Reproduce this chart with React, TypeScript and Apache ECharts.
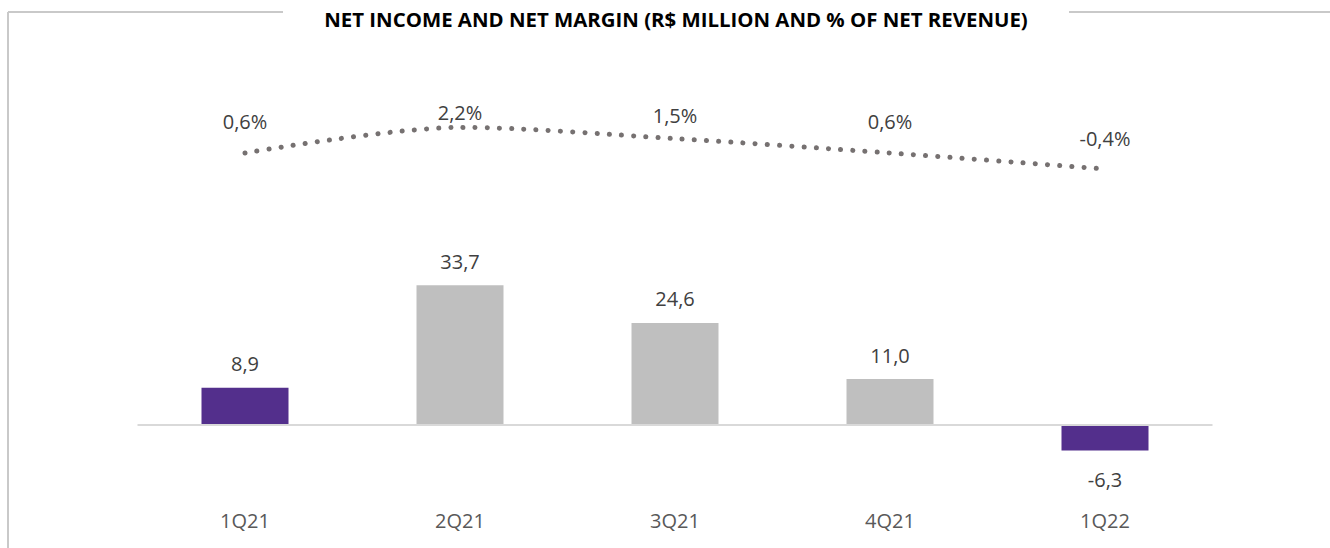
import React, { useEffect, useRef } from "react";
import * as echarts from "echarts";

const categories = ["1Q21", "2Q21", "3Q21", "4Q21", "1Q22"];
const netIncome = [8.9, 33.7, 24.6, 11.0, -6.3];
const netMargin = [0.6, 2.2, 1.5, 0.6, -0.4];
const highlighted = ["1Q21", "1Q22"];
const titleText = "NET INCOME AND NET MARGIN (R$ MILLION AND % OF NET REVENUE)";

// layout constants (not data)
const marginLabelDistance = [21, 4, 13, 21, 20];
const FONT = "'Open Sans', sans-serif";

const fmt = (v: number) => v.toFixed(1).replace(".", ",");

export default function App() {
  const ref = useRef<HTMLDivElement>(null);
  useEffect(() => {
    if (!ref.current) return;
    const chart = echarts.init(ref.current, undefined, { renderer: "svg" });
    chart.setOption({
      animation: false,
      backgroundColor: "#ffffff",
      textStyle: { fontFamily: FONT },
      grid: { left: 137.5, right: 117.5, top: 100, bottom: 44 },
      graphic: [
        {
          type: "line",
          shape: { x1: 8, y1: 12, x2: 283, y2: 12 },
          style: { stroke: "#c9c9c9", lineWidth: 2 },
        },
        {
          type: "line",
          shape: { x1: 8, y1: 12, x2: 8, y2: 548 },
          style: { stroke: "#c9c9c9", lineWidth: 2 },
        },
        {
          type: "line",
          shape: { x1: 1069, y1: 12, x2: 1330, y2: 12 },
          style: { stroke: "#c9c9c9", lineWidth: 2 },
        },
        {
          type: "text",
          x: 676,
          y: 19,
          style: {
            text: titleText,
            textAlign: "center",
            textVerticalAlign: "middle",
            fill: "#000000",
            font: "bold 20.4px 'Open Sans', sans-serif",
          },
        },
      ],
      xAxis: {
        type: "category",
        data: categories,
        axisLine: { show: false },
        axisTick: { show: false },
        axisLabel: { color: "#595959", fontSize: 20, fontFamily: FONT, margin: 6 },
      },
      yAxis: [
        { type: "value", min: -19.25, max: 78.57, show: false, splitLine: { show: false } },
        { type: "value", min: -21.3375, max: 3.9125, show: false, splitLine: { show: false } },
      ],
      series: [
        {
          type: "bar",
          yAxisIndex: 0,
          barWidth: 87,
          data: netIncome.map((v, i) => ({
            value: v,
            itemStyle: { color: highlighted.includes(categories[i]) ? "#532f8c" : "#bfbfbf" },
            label: v < 0 ? { position: "bottom", distance: 19 } : { position: "top", distance: 14 },
          })),
          label: {
            show: true,
            color: "#404040",
            fontSize: 20,
            fontFamily: FONT,
            formatter: (p: any) => fmt(p.value),
          },
          markLine: {
            silent: true,
            symbol: "none",
            label: { show: false },
            lineStyle: { color: "#d9d9d9", width: 2, type: "solid" },
            data: [{ yAxis: 0 }],
          },
        },
        {
          type: "line",
          yAxisIndex: 1,
          smooth: 0.3,
          symbol: "circle",
          symbolSize: 1,
          showSymbol: true,
          itemStyle: { color: "rgba(0,0,0,0)" },
          clip: false,
          z: 5,
          lineStyle: { color: "#767171", width: 5, type: [0.1, 12.1], cap: "round" },
          data: netMargin.map((v, i) => ({
            value: v,
            label: { distance: marginLabelDistance[i] },
          })),
          label: {
            show: true,
            position: "top",
            color: "#404040",
            fontSize: 20,
            fontFamily: FONT,
            formatter: (p: any) => fmt(p.value) + "%",
          },
        },
      ],
    });
    return () => chart.dispose();
  }, []);
  return (
    <div
      ref={ref}
      style={{ position: "absolute", left: 0, top: 0, width: 1330, height: 548 }}
    />
  );
}
